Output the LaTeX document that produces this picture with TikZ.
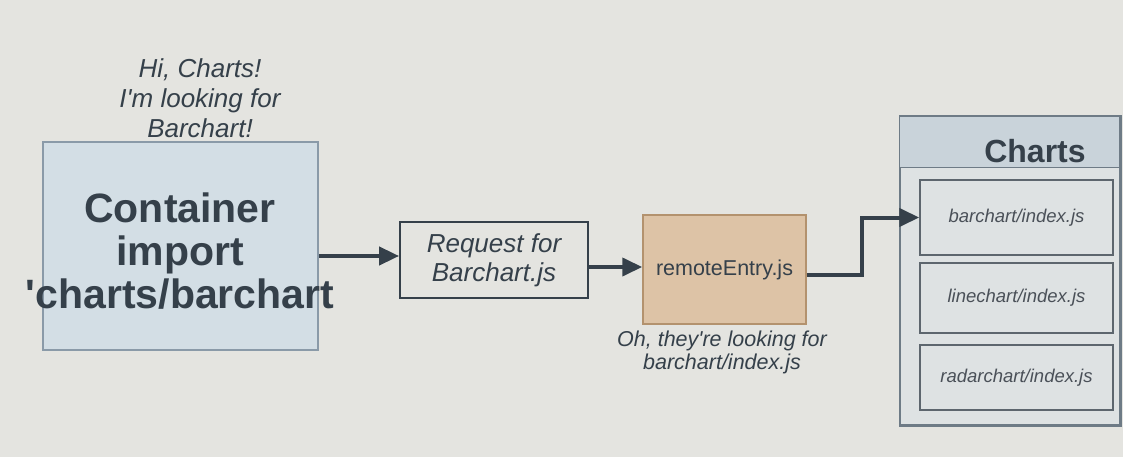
\documentclass[tikz,border=0pt]{standalone}
\usepackage{fontspec}
\setmainfont{Liberation Sans}
\usetikzlibrary{arrows.meta}
\definecolor{bg}{HTML}{E4E4E0}
\definecolor{ink}{HTML}{35404A}
\definecolor{contfill}{HTML}{D3DEE5}
\definecolor{contline}{HTML}{8A9AA8}
\definecolor{tanfill}{HTML}{DDC3A6}
\definecolor{tanline}{HTML}{B3926E}
\definecolor{hdrfill}{HTML}{C9D3DA}
\definecolor{bodyfill}{HTML}{DEE2E3}
\definecolor{graytxt}{HTML}{4A5058}
\tikzset{
  x=1pt,y=-1pt,
  conn/.style={draw=ink,line width=4pt,-{Triangle[length=20pt,width=18pt]}},
  plainbox/.style={draw=ink,line width=1.8pt,fill=bg,minimum width=188pt,minimum height=76pt,align=center,inner sep=0pt},
  filebox/.style={draw=ink!80,line width=1.5pt,fill=bodyfill,minimum width=193pt,minimum height=70pt,inner sep=0pt,font=\fontsize{18.5}{22}\selectfont\itshape,text=graytxt},
  note/.style={align=center,text=ink,inner sep=0pt},
}
\begin{document}
\begin{tikzpicture}
\useasboundingbox (0,0) rectangle (1123,457);
\fill[bg] (0,0) rectangle (1123,457);
% Container
\node[draw=contline,line width=1.5pt,fill=contfill,minimum width=275pt,minimum height=208pt,inner sep=0pt] (cont) at (180.5,246) {};
\node[note,font=\fontsize{41}{43}\selectfont\bfseries] (conttxt) at (180,251) {Container\\import\\\textquotesingle charts/barchart};
\node[note,font=\fontsize{26}{30}\selectfont\itshape] (hi) at (200,98) {Hi, Charts!\\I\textquotesingle m looking for\\Barchart!};
% Request
\node[plainbox,font=\fontsize{26}{29}\selectfont\itshape,text=ink] (req) at (494,260) {Request for\\Barchart.js};
% remoteEntry
\node[draw=tanline,line width=1.5pt,fill=tanfill,minimum width=163pt,minimum height=109pt,inner sep=0pt,font=\fontsize{21.5}{24}\selectfont,text=ink] (remote) at (724.5,269.5) {remoteEntry.js};
\node[note,font=\fontsize{21.5}{23}\selectfont\itshape] (oh) at (722,352) {Oh, they\textquotesingle re looking for\\barchart/index.js};
% Charts container
\node[draw=contline!80!black,line width=1.5pt,fill=bodyfill,minimum width=220pt,minimum height=308pt,inner sep=0pt] (charts) at (1010,271) {};
\fill[hdrfill] (charts.north west) rectangle ++(220,51);
\draw[contline!80!black,line width=1.5pt] (charts.north west) rectangle (charts.south east);
\draw[contline!80!black,line width=1.2pt] ([yshift=-51pt]charts.north west) -- ([yshift=-51pt]charts.north east);
\node[font=\fontsize{32}{36}\selectfont\bfseries,text=ink] (hdr) at (1035,151) {Charts};
\node[filebox,minimum height=75pt] (bar) at (1016.5,217.5) {barchart/index.js};
\node[filebox] (line) at (1016.5,298) {linechart/index.js};
\node[filebox,minimum height=65pt] (radar) at (1016.5,377.5) {radarchart/index.js};
% connectors
\draw[conn] (cont.east |- 0,256) -- (req.west |- 0,256);
\draw[conn] (req.east |- 0,267) -- (remote.west |- 0,267);
\coordinate (bend) at (862,275);
\draw[conn] (remote.east |- 0,275) -- (bend) |- (bar.west);
\end{tikzpicture}
\end{document}
